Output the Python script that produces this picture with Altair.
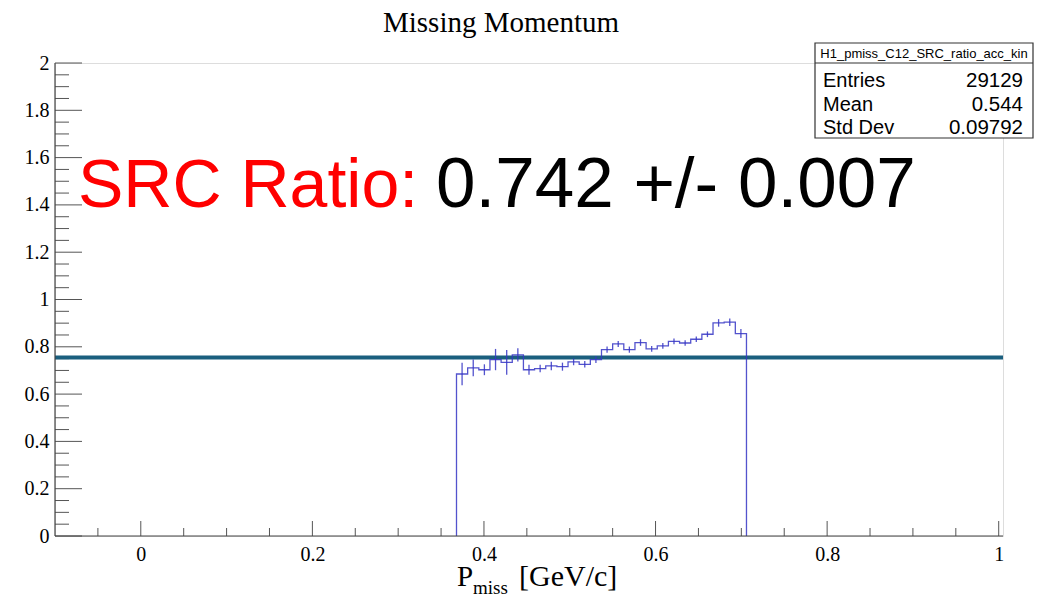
import altair as alt
import pandas as pd

# ---------------- data ----------------
x_min, x_max = -0.1, 1.005
y_min, y_max = 0.0, 2.0
bin_width = 0.013
first_edge = 0.368
ratio = [0.685, 0.711, 0.703, 0.746, 0.734, 0.766, 0.703, 0.708, 0.719, 0.716,
         0.736, 0.726, 0.746, 0.788, 0.812, 0.788, 0.818, 0.791, 0.804, 0.823,
         0.816, 0.832, 0.853, 0.901, 0.904, 0.856]
errors = [0.048, 0.035, 0.023, 0.045, 0.052, 0.028, 0.021, 0.016, 0.018, 0.017,
          0.014, 0.014, 0.014, 0.013, 0.013, 0.013, 0.014, 0.012, 0.012, 0.012,
          0.012, 0.012, 0.012, 0.016, 0.016, 0.019]
fit_value = 0.755
x_major = [0, 0.2, 0.4, 0.6, 0.8, 1]
x_minor = [-0.05, 0.05, 0.1, 0.15, 0.25, 0.3, 0.35, 0.45, 0.5, 0.55, 0.65, 0.7,
           0.75, 0.85, 0.9, 0.95]
y_major = [0, 0.2, 0.4, 0.6, 0.8, 1, 1.2, 1.4, 1.6, 1.8, 2]
y_minor = [0.05, 0.1, 0.15, 0.25, 0.3, 0.35, 0.45, 0.5, 0.55, 0.65, 0.7, 0.75,
           0.85, 0.9, 0.95, 1.05, 1.1, 1.15, 1.25, 1.3, 1.35, 1.45, 1.5, 1.55,
           1.65, 1.7, 1.75, 1.85, 1.9, 1.95]
stats_title = "H1_pmiss_C12_SRC_ratio_acc_kin"
stats_labels = ["Entries", "Mean", "Std Dev"]
stats_values = ["29129", "0.544", "0.09792"]

W, H = 948, 473
HIST = "#3535c4"

# ---------------- tables ----------------
n = len(ratio)
edges = [first_edge + i * bin_width for i in range(n + 1)]
step_df = pd.DataFrame({
    "x": [edges[0]] + edges,
    "y": [0.0] + ratio + [0.0],
    "o": list(range(n + 2)),
})
err_df = pd.DataFrame({
    "x": [e + bin_width / 2 for e in edges[:-1]],
    "lo": [r - e for r, e in zip(ratio, errors)],
    "hi": [r + e for r, e in zip(ratio, errors)],
})
fit_df = pd.DataFrame({"x": [x_min], "x2": [x_max], "y": [fit_value]})

xs = alt.Scale(domain=[x_min, x_max], nice=False, zero=False)
ys = alt.Scale(domain=[y_min, y_max], nice=False, zero=False)

base_axis = dict(grid=False, ticks=False, domain=False,
                 labelFont="Liberation Serif", labelFontSize=20,
                 labelColor="black", format="~g")

x_axis = alt.Axis(values=x_major, labelPadding=8, title=None, **base_axis)
y_axis = alt.Axis(values=y_major, labelPadding=6, title=None, **base_axis)

axes_layer = alt.Chart(pd.DataFrame({"x": [0.0], "y": [0.0]})).mark_point(opacity=0).encode(
    x=alt.X("x:Q", scale=xs, axis=x_axis),
    y=alt.Y("y:Q", scale=ys, axis=y_axis),
)

TICK = "#555555"
xmaj = alt.Chart(pd.DataFrame({"t": x_major})).mark_rule(color=TICK, strokeWidth=1).encode(
    x=alt.X("t:Q", scale=xs), y=alt.value(H), y2=alt.value(H - 15))
xmin_ = alt.Chart(pd.DataFrame({"t": x_minor})).mark_rule(color=TICK, strokeWidth=1).encode(
    x=alt.X("t:Q", scale=xs), y=alt.value(H), y2=alt.value(H - 8))
ymaj = alt.Chart(pd.DataFrame({"t": y_major})).mark_rule(color=TICK, strokeWidth=1).encode(
    y=alt.Y("t:Q", scale=ys), x=alt.value(0), x2=alt.value(27))
ymin_ = alt.Chart(pd.DataFrame({"t": y_minor})).mark_rule(color=TICK, strokeWidth=1).encode(
    y=alt.Y("t:Q", scale=ys), x=alt.value(0), x2=alt.value(14))

# left and bottom axis lines
axis_lines = alt.Chart(pd.DataFrame({"a": [0]})).mark_rule(color="#444444", strokeWidth=1.2).encode(
    x=alt.value(0), x2=alt.value(W), y=alt.value(H))
axis_lines2 = alt.Chart(pd.DataFrame({"a": [0]})).mark_rule(color="#444444", strokeWidth=1.2).encode(
    x=alt.value(0), y=alt.value(0), y2=alt.value(H))

step = alt.Chart(step_df).mark_line(interpolate="step-after", color=HIST, strokeWidth=1.3,
                                     opacity=0.85).encode(
    x=alt.X("x:Q", scale=xs), y=alt.Y("y:Q", scale=ys), order="o:Q")
errbars = alt.Chart(err_df).mark_rule(color=HIST, strokeWidth=1.3, opacity=0.85).encode(
    x=alt.X("x:Q", scale=xs), y=alt.Y("lo:Q", scale=ys), y2="hi:Q")

fit = alt.Chart(fit_df).mark_rule(color="#1b5f7e", strokeWidth=4).encode(
    x=alt.X("x:Q", scale=xs), x2="x2:Q", y=alt.Y("y:Q", scale=ys))

# texts
one = pd.DataFrame({"a": [0]})
title = alt.Chart(one).mark_text(text="Missing Momentum", font="Liberation Serif", fontSize=29,
                                 align="center", baseline="alphabetic", color="black").encode(
    x=alt.value(446), y=alt.value(-31))
src_red = alt.Chart(one).mark_text(text="SRC Ratio:", font="Liberation Sans", fontSize=68,
                                   align="left", baseline="alphabetic", color="#ff0000").encode(
    x=alt.value(23), y=alt.value(144))
src_black = alt.Chart(one).mark_text(text="0.742 +/- 0.007", font="Liberation Sans", fontSize=71,
                                     align="left", baseline="alphabetic", color="black").encode(
    x=alt.value(381), y=alt.value(144))
xt_p = alt.Chart(one).mark_text(text="P", font="Liberation Serif", fontSize=29,
                                align="left", baseline="alphabetic", color="black").encode(
    x=alt.value(402), y=alt.value(523))
xt_sub = alt.Chart(one).mark_text(text="miss", font="Liberation Serif", fontSize=19,
                                  align="left", baseline="alphabetic", color="black").encode(
    x=alt.value(418), y=alt.value(531))
xt_rest = alt.Chart(one).mark_text(text="[GeV/c]", font="Liberation Serif", fontSize=30,
                                   align="left", baseline="alphabetic", color="black").encode(
    x=alt.value(464), y=alt.value(523))

# stats box
bx0, bx1, by0, by1, bsep = 760, 978, -20, 75, 0
box = alt.Chart(one).mark_rect(fill="white", stroke="#333333", strokeWidth=1.2).encode(
    x=alt.value(bx0), x2=alt.value(bx1), y=alt.value(by0), y2=alt.value(by1))
sep = alt.Chart(one).mark_rule(color="#333333", strokeWidth=1.2).encode(
    x=alt.value(bx0), x2=alt.value(bx1), y=alt.value(bsep))
box_title = alt.Chart(one).mark_text(text=stats_title, font="Liberation Sans", fontSize=13,
                                     align="center", baseline="alphabetic", color="black").encode(
    x=alt.value((bx0 + bx1) / 2), y=alt.value(-5))
stats_df = pd.DataFrame({"label": stats_labels, "value": stats_values,
                         "row": list(range(len(stats_labels)))})
row_y = alt.Scale(domain=[0, 2], range=[24, 71])
st_lab = alt.Chart(stats_df).mark_text(font="Liberation Sans", fontSize=20, align="left",
                                       baseline="alphabetic", color="black").encode(
    x=alt.value(768), y=alt.Y("row:Q", scale=row_y, axis=None), text="label:N")
st_val = alt.Chart(stats_df).mark_text(font="Liberation Sans", fontSize=20.5, align="right",
                                       baseline="alphabetic", color="black").encode(
    x=alt.value(968), y=alt.Y("row:Q", scale=row_y, axis=None), text="value:N")

main = alt.layer(axes_layer, xmin_, xmaj, ymin_, ymaj, fit, step, errbars,
                 axis_lines, axis_lines2, src_red, src_black, title,
                 xt_p, xt_sub, xt_rest).resolve_scale(y="shared")
stats = alt.layer(box, sep, box_title, st_lab, st_val)

chart = alt.layer(main, stats).resolve_scale(y="independent").properties(
    width=W, height=H,
    autosize=alt.AutoSizeParams(type="none"),
    padding={"left": 55, "top": 63, "right": 34, "bottom": 63},
).configure_view(stroke="#999999", strokeWidth=1.2).configure(background="white")

chart.save("out.html", embed_options={"renderer": "svg", "actions": False})
